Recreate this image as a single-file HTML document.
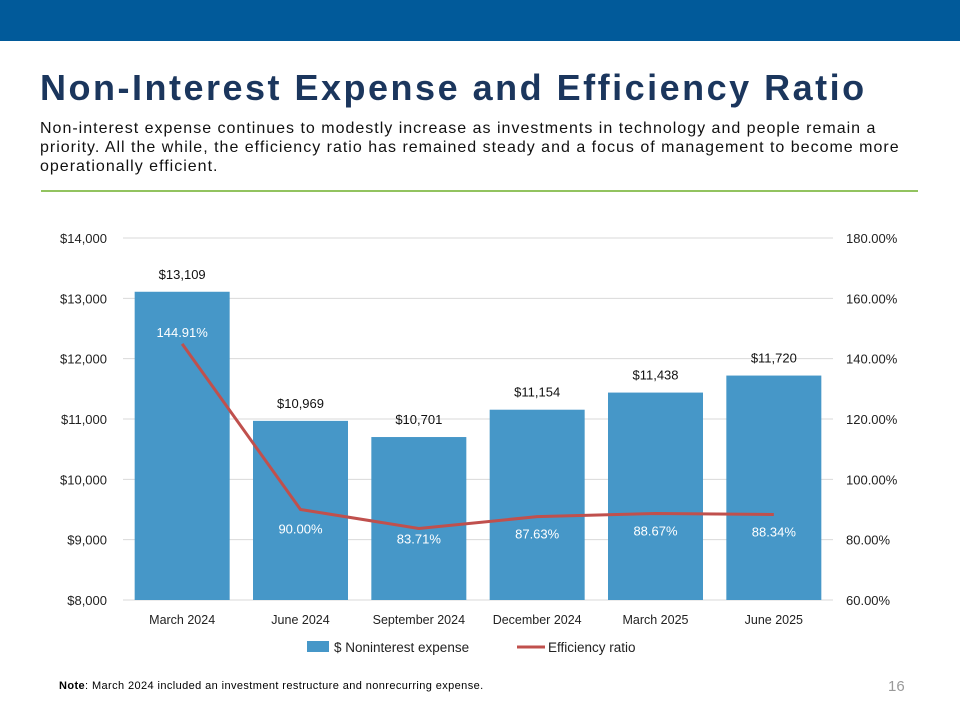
<!DOCTYPE html>
<html><head><meta charset="utf-8"><style>
body{margin:0;width:960px;height:720px;background:#fff;font-family:"Liberation Sans",sans-serif;position:relative;overflow:hidden}
.hdr{position:absolute;left:0;top:0;width:960px;height:41px;background:#015a9a}
.title{position:absolute;left:40px;top:67px;font-size:36px;font-weight:bold;color:#1b365d;letter-spacing:2.5px;white-space:nowrap}
.sub{position:absolute;left:40px;top:119px;font-size:16px;line-height:19px;color:#111;letter-spacing:1px;white-space:nowrap}
.rule{position:absolute;left:41px;top:190px;width:877px;height:2px;background:#92c35f}
.note{position:absolute;left:59px;top:680px;font-size:11px;color:#000;letter-spacing:0.4px;white-space:nowrap}
.pg{position:absolute;left:888px;top:678px;font-size:15px;color:#999}
svg{position:absolute;left:0;top:0}
</style></head><body>
<div class="hdr"></div>
<div class="title">Non-Interest Expense and Efficiency Ratio</div>
<div class="sub">Non-interest expense continues to modestly increase as investments in technology and people remain a<br>priority. All the while, the efficiency ratio has remained steady and a focus of management to become more<br>operationally efficient.</div>
<div class="rule"></div>
<svg id="chart" width="960" height="720"></svg>
<div class="note"><b>Note</b>: March 2024 included an investment restructure and nonrecurring expense.</div>
<div class="pg">16</div>
<script>
const categories=["March 2024","June 2024","September 2024","December 2024","March 2025","June 2025"];
const expense=[13109,10969,10701,11154,11438,11720];
const ratio=[144.91,90.00,83.71,87.63,88.67,88.34];
const leftTicks=[8000,9000,10000,11000,12000,13000,14000];
const rightTicks=[60,80,100,120,140,160,180];
const NS="http://www.w3.org/2000/svg";
const svg=document.getElementById('chart');
const X0=123,X1=833,Y0=600,Y1=238;
const bw=(X1-X0)/categories.length;
const yL=v=>Y0-(v-8000)/6000*(Y0-Y1);
const yR=v=>Y0-(v-60)/120*(Y0-Y1);
const xc=i=>X0+bw*(i+0.5);
function el(t,a,txt){const e=document.createElementNS(NS,t);for(const k in a)e.setAttribute(k,a[k]);if(txt!==undefined)e.textContent=txt;svg.appendChild(e);return e;}
const fmt=v=>'$'+v.toLocaleString('en-US');
leftTicks.forEach((t,i)=>{
 const g=el('line',{x1:X0,x2:X1,y1:yL(t),y2:yL(t),stroke:'#d9d9d9','stroke-width':1});
 
 
 const l=el('text',{x:107,y:yL(t)+5,'text-anchor':'end','font-size':13,fill:'#222'},fmt(t));
 
 
});
rightTicks.forEach(t=>{
 const l=el('text',{x:846,y:yR(t)+5,'font-size':13,fill:'#222'},t.toFixed(2)+'%');
 
 
});
expense.forEach((v,i)=>{
 const r=el('rect',{x:xc(i)-47.5,y:yL(v),width:95,height:Y0-yL(v),fill:'#4697c8'});
 
 
 const t=el('text',{x:xc(i),y:yL(v)-13,'text-anchor':'middle','font-size':13,fill:'#111'},fmt(v));
 
 
 const c=el('text',{x:xc(i),y:Y0+24,'text-anchor':'middle','font-size':12.5,fill:'#222'},categories[i]);
 
 
});
const pts=ratio.map((v,i)=>xc(i)+','+yR(v)).join(' ');
const pl=el('polyline',{points:pts,fill:'none',stroke:'#c0504d','stroke-width':3});


ratio.forEach((v,i)=>{
 const t=el('text',{x:xc(i),y:yR(v)+(i===0?-7:(i===1?24:(i===2?15:22))),'text-anchor':'middle','font-size':13,fill:'#fff'},v.toFixed(2)+'%');
 
 
});
const lr=el('rect',{x:307,y:641,width:22,height:11,fill:'#4697c8'});


const lt=el('text',{x:334,y:652,'font-size':13.5,fill:'#222'},'$ Noninterest expense');


const ll=el('line',{x1:517,x2:545,y1:647,y2:647,stroke:'#c0504d','stroke-width':3});


const lt2=el('text',{x:548,y:652,'font-size':13.5,fill:'#222'},'Efficiency ratio');


</script>
</body></html>
